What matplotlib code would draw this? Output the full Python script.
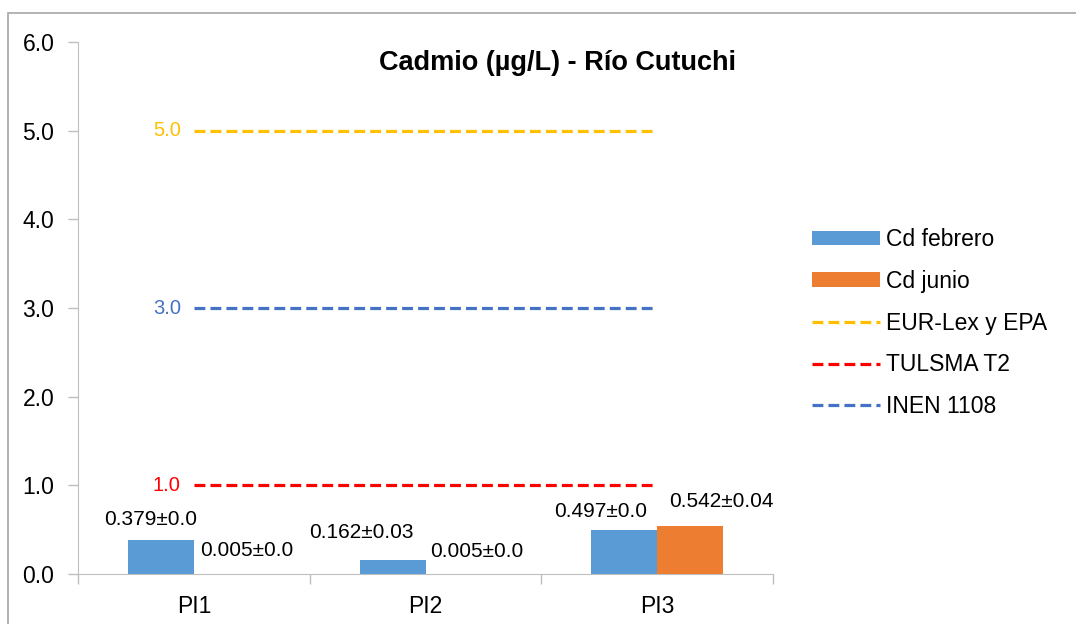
import numpy as np
import matplotlib.pyplot as plt
from matplotlib.patches import Rectangle

plt.rcParams['font.family'] = ['Liberation Sans', 'DejaVu Sans']

# data
sites = ['PI1', 'PI2', 'PI3']
cd_feb = [0.379, 0.162, 0.497]
cd_jun = [0.005, 0.005, 0.542]
err_feb = ['0.0', '0.03', '0.0']
err_jun = ['0.0', '0.0', '0.04']
limit_names = ['EUR-Lex y EPA', 'TULSMA T2', 'INEN 1108']
limit_values = [5.0, 1.0, 3.0]
limit_colors = ['#FFC000', '#FF0000', '#4472C4']

fig = plt.figure(figsize=(10.76, 6.24), dpi=100)
ax = fig.add_axes([0.0725, 0.0801, 0.6460, 0.8526])

# outer chart frame (only top/left edges are inside the picture)
fig.patches.append(Rectangle((8 / 1076, -1), 2, 2 - 13 / 624, transform=fig.transFigure,
                             fill=False, edgecolor='#A6A6A6', lw=1.2))

x = np.arange(len(sites))
w = 0.285
ax.bar(x - w / 2, cd_feb, w, color='#5B9BD5', label='Cd febrero', zorder=3)
ax.bar(x + w / 2, cd_jun, w, color='#ED7D31', label='Cd junio', zorder=3)

for name, val, col in zip(limit_names, limit_values, limit_colors):
    ax.plot([0, 2], [val, val], color=col, lw=2.3, ls=(0, (3.4, 1.6)), label=name, zorder=2)
    ax.annotate(f'{val:.1f}', (0, val), xytext=(-13, 0), textcoords='offset pixels',
                ha='right', va='center', color=col, fontsize=14.5)

# data labels (Excel placed them a bit off-centre)
feb_off = [(-10, 21), (-31, 27), (-24, 18)]
jun_off = [(20, 23), (18, 22), (31, 24)]
for i in range(len(sites)):
    ax.annotate(f'{cd_feb[i]:.3f}±{err_feb[i]}', (x[i] - w / 2, cd_feb[i]), xytext=feb_off[i],
                textcoords='offset pixels', ha='center', va='center', fontsize=15)
    ax.annotate(f'{cd_jun[i]:.3f}±{err_jun[i]}', (x[i] + w / 2, cd_jun[i]), xytext=jun_off[i],
                textcoords='offset pixels', ha='center', va='center', fontsize=15)

ax.set_xlim(-0.5, 2.5)
ax.set_ylim(0, 6)
ax.set_yticks(np.arange(0, 6.1, 1.0))
ax.set_yticklabels([f'{v:.1f}' for v in np.arange(0, 6.1, 1.0)], fontsize=16.5)
ax.set_xticks(x)
ax.set_xticklabels(sites, fontsize=16.5)
ax.set_xticks([-0.5, 0.5, 1.5, 2.5], minor=True)
ax.tick_params(axis='x', which='major', length=0, pad=15)
ax.tick_params(axis='x', which='minor', length=7, color='#BFBFBF', width=1)
ax.tick_params(axis='y', length=7, color='#BFBFBF', width=1, pad=10)
for s in ['top', 'right']:
    ax.spines[s].set_visible(False)
for s in ['left', 'bottom']:
    ax.spines[s].set_color('#BFBFBF')

ax.text(0.69, 0.96, 'Cadmio (µg/L) - Río Cutuchi', transform=ax.transAxes,
        ha='center', va='center', fontsize=19.5, fontweight='bold')

handles, labels = ax.get_legend_handles_labels()
order = [3, 4, 0, 1, 2]
fig.legend([handles[k] for k in order], [labels[k] for k in order],
           loc='center left', bbox_to_anchor=(812 / 1076, 1 - 323 / 624),
           frameon=False, fontsize=16.5, handlelength=2.95, handleheight=0.6,
           labelspacing=0.82, handletextpad=0.3, borderpad=0, borderaxespad=0)

fig.savefig('out.png', dpi=100)
